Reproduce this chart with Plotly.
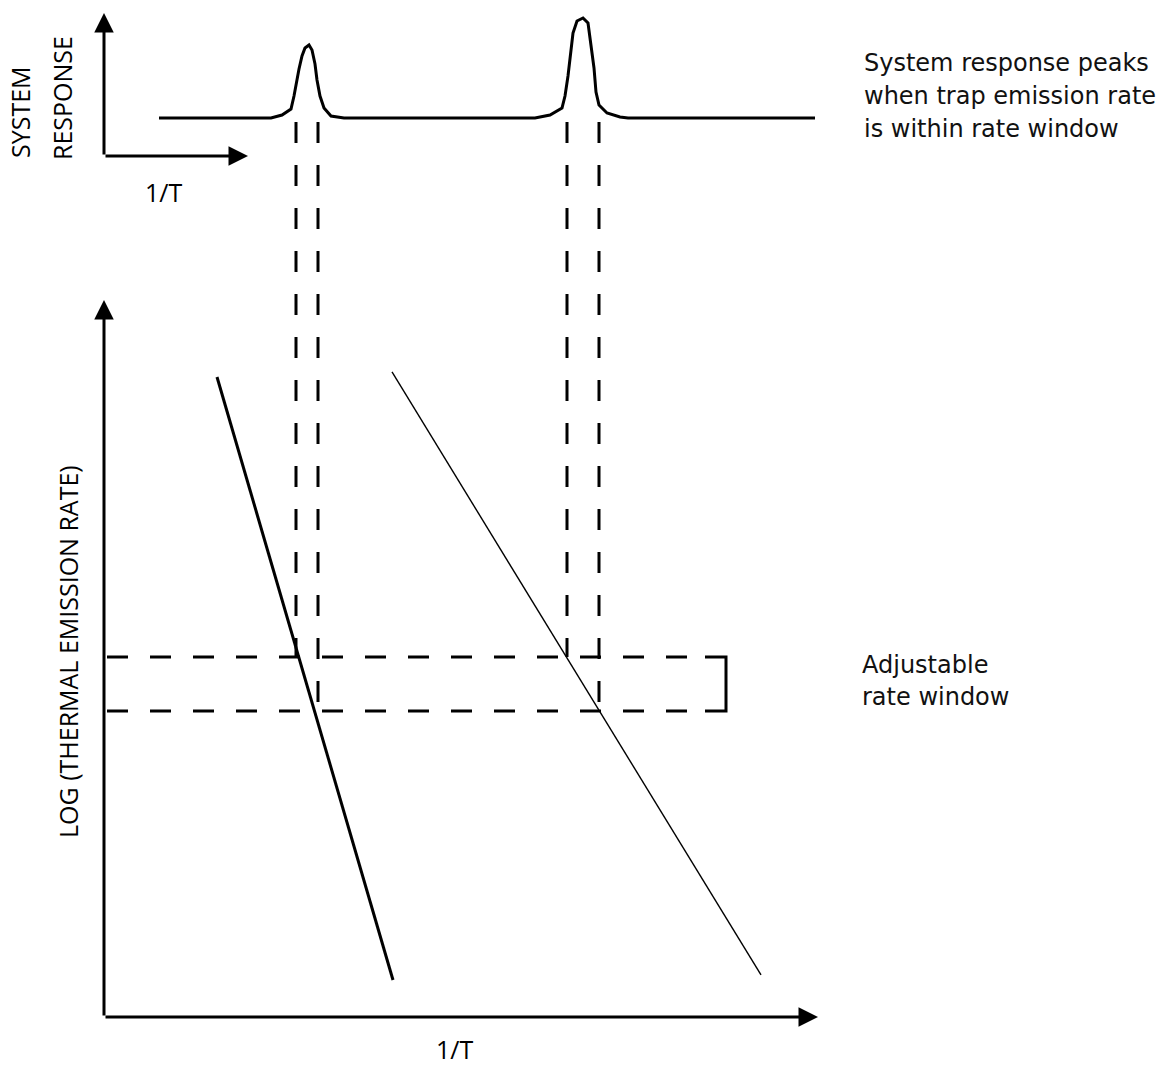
import plotly.graph_objects as go

# ---------------- data (diagram units) ----------------
# Upper panel: system response vs 1/T  (response axis zero = upper 1/T axis)
response_inv_T = [159, 271, 282, 291, 294, 296, 299, 302, 305, 309, 312, 315, 317, 320, 324, 331, 344,
                  535, 550, 562, 565, 568, 571, 573, 577, 583, 588, 591, 594, 596, 599, 607, 620, 628, 815]
response_value = [38, 38, 41, 47, 60, 72, 87, 100, 108, 111, 106, 92, 76, 60, 48, 40, 38,
                  38, 41, 48, 60, 80, 103, 123, 135, 138, 133, 113, 88, 64, 51, 43, 39, 38, 38]

# Lower panel: log(thermal emission rate) vs 1/T for two traps
trap_a_inv_T = [217, 393]
trap_a_log_rate = [8.926, 0.516]
trap_b_inv_T = [392, 761]
trap_b_log_rate = [8.996, 0.586]

# Adjustable rate window (log-rate levels) and its extent along 1/T
window_upper = 5.021
window_lower = 4.268
window_inv_T = [107, 705]
bracket_inv_T = [705, 726]

# Projections from the window crossings up to the response panel
proj_inv_T = [296, 318, 567, 599]
proj_log_rate_bottom = [window_upper, window_lower, window_upper, window_lower]
proj_log_rate_top = 12.483

# Axes extents
lower_axis_origin = (104, 0.0)
lower_x_tip = 818
lower_y_tip = 10.0
upper_x_tip = 248
upper_y_tip = 143

# ---------------- figure ----------------
fig = go.Figure()
BLACK = "#000000"
DASH = "21px,22px"

# response curve (upper panel)
fig.add_trace(go.Scatter(x=response_inv_T, y=response_value, yaxis="y2", mode="lines",
                         line=dict(color=BLACK, width=3), hoverinfo="skip"))

# trap lines
fig.add_trace(go.Scatter(x=trap_a_inv_T, y=trap_a_log_rate, mode="lines",
                         line=dict(color=BLACK, width=3), hoverinfo="skip"))
fig.add_trace(go.Scatter(x=trap_b_inv_T, y=trap_b_log_rate, mode="lines",
                         line=dict(color=BLACK, width=1.4), hoverinfo="skip"))

# rate window dashed lines
for lvl in (window_upper, window_lower):
    fig.add_trace(go.Scatter(x=window_inv_T, y=[lvl, lvl], mode="lines",
                             line=dict(color=BLACK, width=3, dash=DASH), hoverinfo="skip"))
# bracket at the right end
fig.add_trace(go.Scatter(x=[bracket_inv_T[0], bracket_inv_T[1], bracket_inv_T[1], bracket_inv_T[0]],
                         y=[window_upper, window_upper, window_lower, window_lower], mode="lines",
                         line=dict(color=BLACK, width=3), hoverinfo="skip"))

# vertical projections
for xv, yb in zip(proj_inv_T, proj_log_rate_bottom):
    fig.add_trace(go.Scatter(x=[xv, xv], y=[proj_log_rate_top, yb], mode="lines",
                             line=dict(color=BLACK, width=3, dash=DASH), hoverinfo="skip"))

# axis arrows
arrow_common = dict(text="", showarrow=True, arrowhead=2, arrowsize=1.3, arrowwidth=3,
                    arrowcolor=BLACK, standoff=0, startstandoff=0, axref="x")
ox, oy = lower_axis_origin
annotations = [
    dict(x=ox, y=lower_y_tip, ax=ox, ay=oy, xref="x", yref="y", ayref="y", **arrow_common),
    dict(x=lower_x_tip, y=oy, ax=ox, ay=oy, xref="x", yref="y", ayref="y", **arrow_common),
    dict(x=ox, y=upper_y_tip, ax=ox, ay=0, xref="x", yref="y2", ayref="y2", **arrow_common),
    dict(x=upper_x_tip, y=0, ax=ox, ay=0, xref="x", yref="y2", ayref="y2", **arrow_common),
]

LABEL_FONT = dict(family="Open Sans, sans-serif", size=25, color=BLACK)
NOTE_FONT = dict(family="DejaVu Sans, sans-serif", size=24, color="#111111")


def ptxt(text, x, y, font, xanchor="center", yanchor="middle", angle=0):
    return dict(text=text, x=x / 1168, y=1 - y / 1070, xref="paper", yref="paper",
                showarrow=False, font=font, xanchor=xanchor, yanchor=yanchor, textangle=angle)


annotations += [
    ptxt("SYSTEM", 20, 112, LABEL_FONT, angle=-90),
    ptxt("RESPONSE", 62, 98, LABEL_FONT, angle=-90),
    ptxt("1/T", 163, 192, LABEL_FONT),
    ptxt("LOG (THERMAL EMISSION RATE)", 68, 652, LABEL_FONT, angle=-90),
    ptxt("1/T", 455, 1049, LABEL_FONT),
    ptxt("System response peaks", 862, 63, NOTE_FONT, xanchor="left"),
    ptxt("when trap emission rate", 862, 96, NOTE_FONT, xanchor="left"),
    ptxt("is within rate window", 862, 129, NOTE_FONT, xanchor="left"),
    ptxt("Adjustable", 860, 665, NOTE_FONT, xanchor="left"),
    ptxt("rate window", 860, 697, NOTE_FONT, xanchor="left"),
]

fig.update_layout(
    width=1168, height=1070,
    margin=dict(l=0, r=0, t=0, b=0),
    paper_bgcolor="white", plot_bgcolor="white",
    showlegend=False,
    xaxis=dict(range=[0, 1168], domain=[0, 1], visible=False, fixedrange=True),
    yaxis=dict(range=[-0.7392, 14.1841], domain=[0, 1], visible=False, fixedrange=True),
    yaxis2=dict(range=[-914, 156], domain=[0, 1], overlaying="y", visible=False, fixedrange=True),
    annotations=annotations,
)

fig.write_html("out.html", config={"displayModeBar": False})
